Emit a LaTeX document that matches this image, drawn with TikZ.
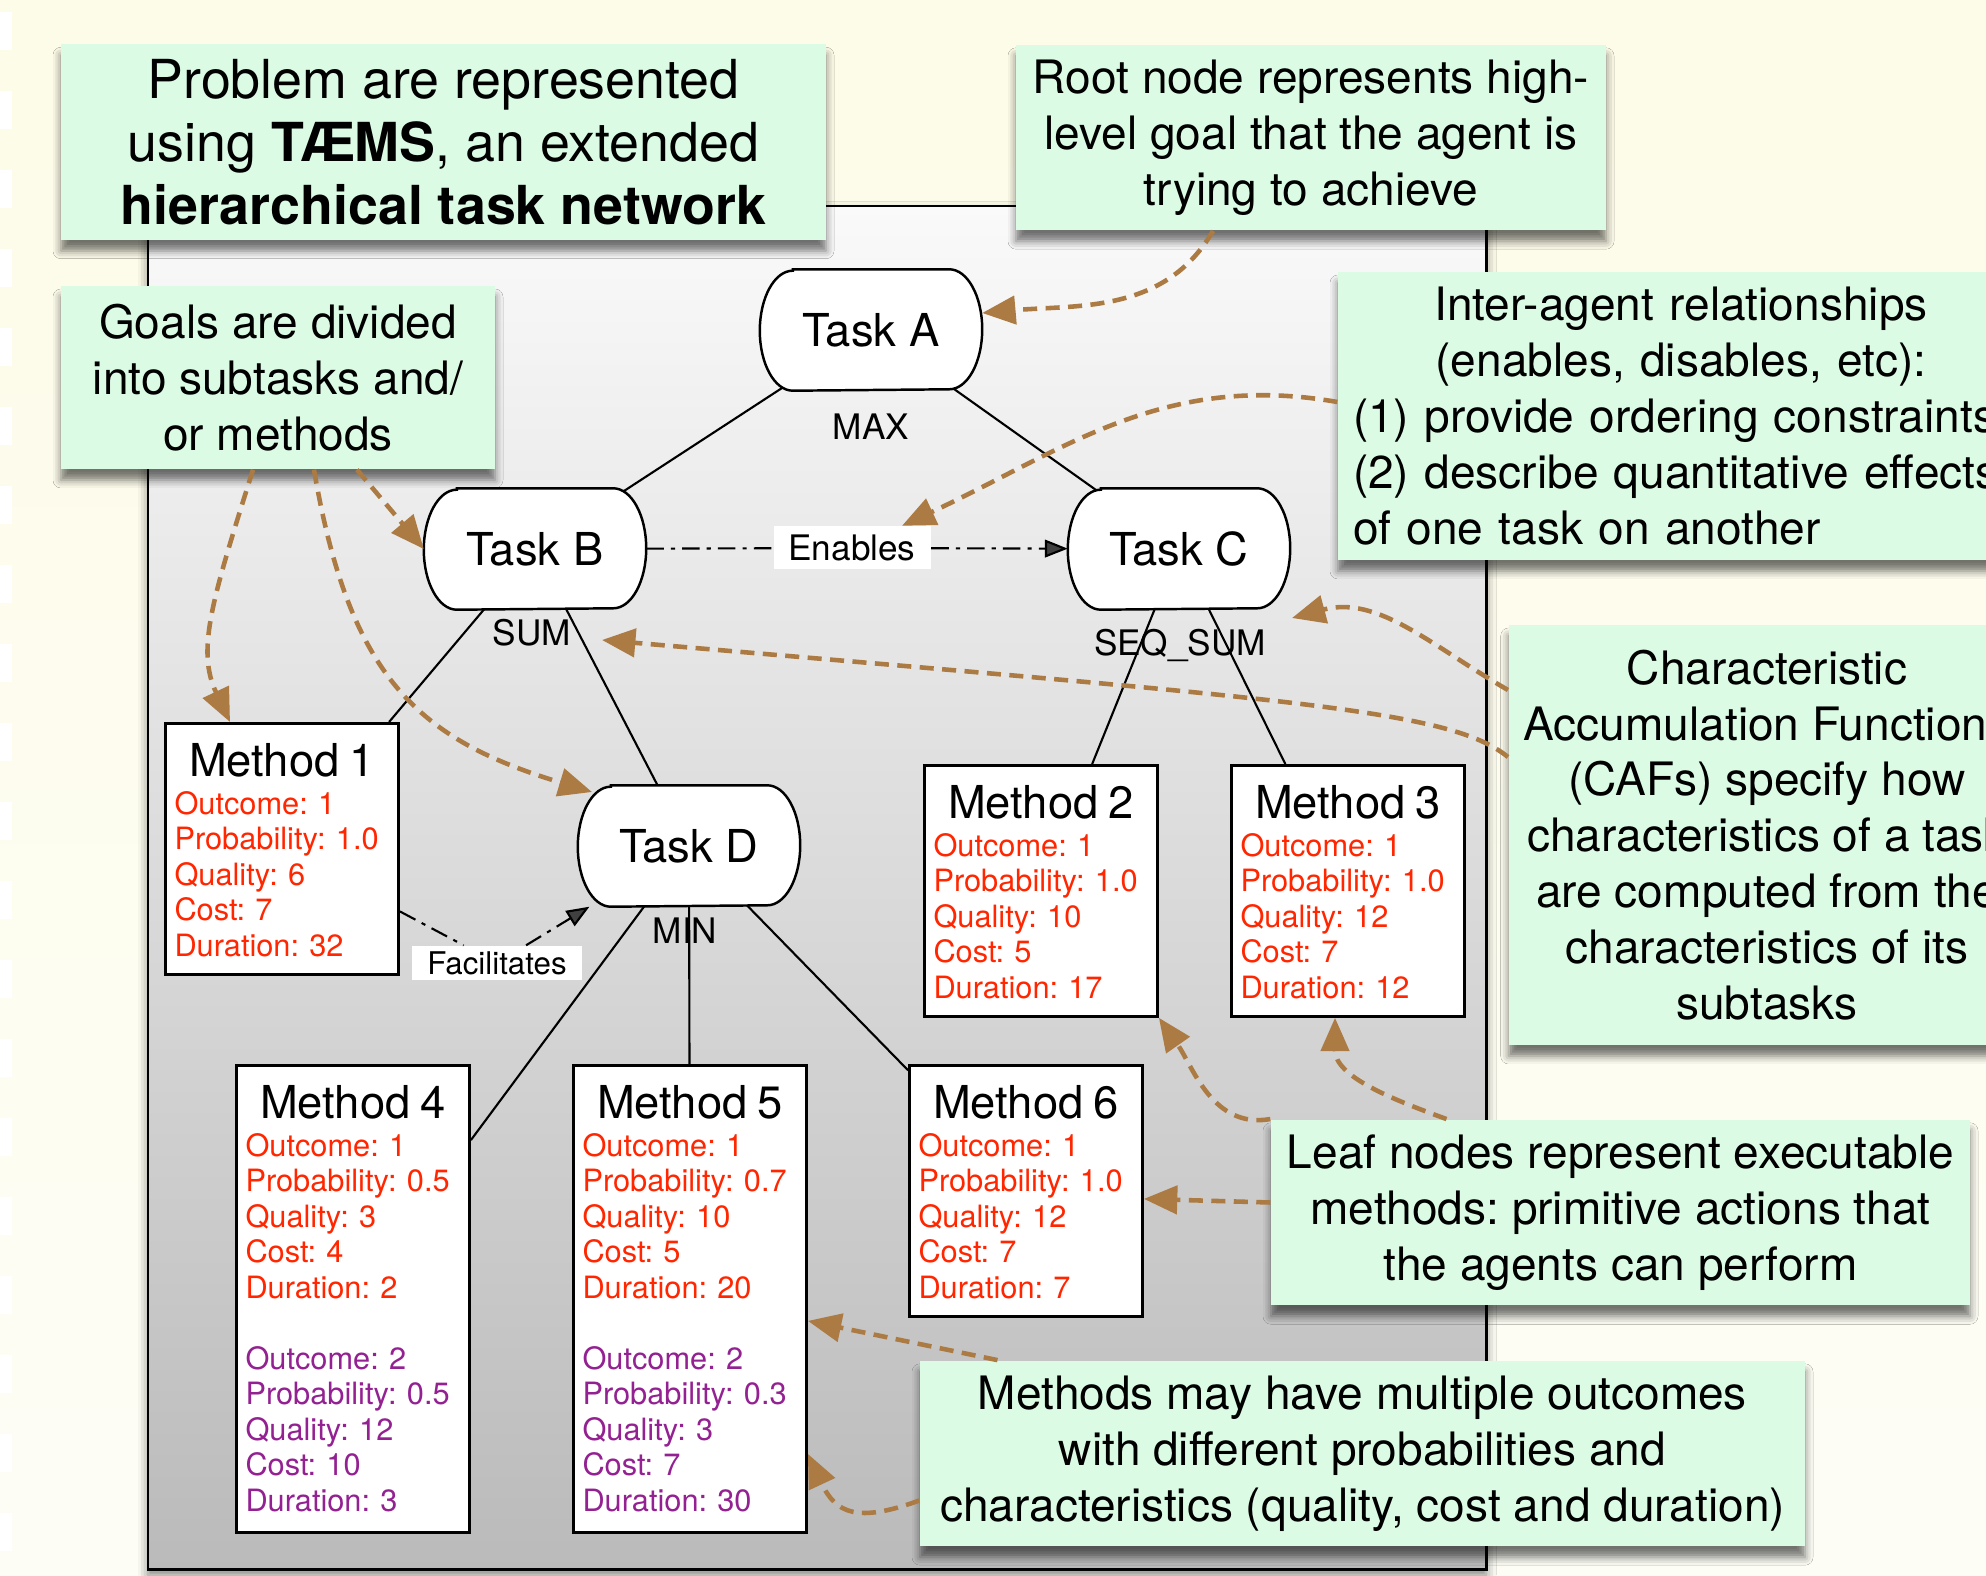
\documentclass[tikz,border=0pt]{standalone}
\usepackage{fontspec}
\setmainfont{TeX Gyre Heros}
\usetikzlibrary{arrows.meta, shadows.blur}
\frenchspacing

\definecolor{cream}{RGB}{253,252,232}
\definecolor{creamlight}{RGB}{253,253,246}
\definecolor{notegreen}{RGB}{219,251,229}
\definecolor{notebrown}{RGB}{172,123,67}
\definecolor{outred}{RGB}{255,38,0}
\definecolor{outpurple}{RGB}{148,33,146}

% method box helpers
\newcommand{\mhead}[1]{{\centering\fontsize{12.9}{15}\selectfont #1\par}\vspace{0.7pt}}
\newcommand{\outcome}[6]{{\raggedright\color{#1}\mbox{Outcome: #2}\\\mbox{Probability: #3}\\
  \mbox{Quality: #4}\\\mbox{Cost: #5}\\\mbox{Duration: #6}\par}}

\tikzset{
  task/.style={rectangle, minimum width=2.21cm, minimum height=1.2cm, inner sep=0pt},
  taskbody/.style={draw, fill=white, line width=0.7pt},
  tasktext/.style={font=\fontsize{12.9}{15}\selectfont},
  method/.style={draw, fill=white, line width=0.8pt, anchor=north,
    text width=2.15cm, inner xsep=0.09cm, inner ysep=0.15cm,
    text height=0.38cm, text depth=#1, font=\fontsize{8.75}{10.1}\selectfont},
  method/.default=1.83cm,
  caf/.style={font=\fontsize{10}{12}\selectfont},
  rellabel/.style={fill=white, inner xsep=0.15cm, inner ysep=0pt, minimum height=0.43cm},
  link/.style={line width=0.6pt},
  relation/.style={line width=0.6pt, dash pattern=on 5pt off 2pt on 1.2pt off 2pt,
    -{Triangle[length=6.5pt, width=5pt]}},
  notebox/.style={fill=notegreen, inner sep=0.15cm,
    blur shadow={shadow xshift=0cm, shadow yshift=-0.11cm, shadow blur radius=0.08cm, shadow opacity=55},
    font=\fontsize{13.1}{15.9}\selectfont},
  note/.style={notebox, align=center},
  notearrow/.style={draw=notebrown, line width=1.3pt, dash pattern=on 4pt off 2.4pt,
    -{Triangle[length=9.5pt, width=8pt]}},
}

\begin{document}
\begin{tikzpicture}
\useasboundingbox (0,0) rectangle (19.86,15.75);
\clip (0,0) rectangle (19.86,15.75);
% page
\shade[top color=cream, bottom color=creamlight] (0,0) rectangle (19.86,15.75);
\draw[white, line width=0.12cm, dash pattern=on 0.38cm off 0.41cm] (0.06,15.63) -- (0.06,0);
% task network panel
\draw[line width=0.85pt, top color=black!2, middle color=black!10, bottom color=black!27,
  blur shadow={shadow xshift=0cm, shadow yshift=-0.06cm, shadow blur radius=0.1cm, shadow opacity=50}]
  (1.48,0.06) rectangle (14.86,13.69);

% task places, the outlines are drawn over the tree below
\node[task] (taskA) at (8.71,12.45) {};
\node[task] (taskB) at (5.35,10.26) {};
\node[task] (taskC) at (11.79,10.26) {};
\node[task] (taskD) at (6.89,7.29) {};

% methods
\node[method] (method1) at (2.82,8.53) {\mhead{Method 1}\outcome{outred}{1}{1.0}{6}{7}{32}};
\node[method] (method2) at (10.41,8.11) {\mhead{Method 2}\outcome{outred}{1}{1.0}{10}{5}{17}};
\node[method] (method3) at (13.48,8.11) {\mhead{Method 3}\outcome{outred}{1}{1.0}{12}{7}{12}};
\node[method=3.99cm] (method4) at (3.53,5.11) {\mhead{Method 4}\outcome{outred}{1}{0.5}{3}{4}{2}%
  \vspace{\baselineskip}\outcome{outpurple}{2}{0.5}{12}{10}{3}};
\node[method=3.99cm] (method5) at (6.90,5.11) {\mhead{Method 5}\outcome{outred}{1}{0.7}{10}{5}{20}%
  \vspace{\baselineskip}\outcome{outpurple}{2}{0.3}{3}{7}{30}};
\node[method] (method6) at (10.26,5.11) {\mhead{Method 6}\outcome{outred}{1}{1.0}{12}{7}{7}};

% tree
\draw[link] (taskA.center) -- (taskB.center);
\draw[link] (taskA.center) -- (taskC.center);
\draw[link] (taskB.center) -- (taskD.center);
\draw[link] (taskB.center) -- (method1);
\draw[link] (taskC.center) -- (method2);
\draw[link] (taskC.center) -- (method3);
\draw[link] (taskD.center) -- (method4);
\draw[link] (taskD.center) -- (method5);
\draw[link] (taskD.center) -- (method6);

% task outlines with their names
\foreach \t/\s in {taskA/A, taskB/B, taskC/C, taskD/D}
  \draw[taskbody] ([xshift=0.33cm]\t.north west) -- ([xshift=-0.33cm]\t.north east)
    arc[start angle=90, end angle=-90, x radius=0.33cm, y radius=0.6cm]
    -- ([xshift=0.33cm]\t.south west)
    arc[start angle=270, end angle=90, x radius=0.33cm, y radius=0.6cm] -- cycle
    (\t.center) node[tasktext] (\t text) {Task \s};

% accumulation functions
\node[caf] (max) at (8.71,11.48) {MAX};
\node[caf] (sum) at (5.32,9.42) {SUM};
\node[caf] (seqsum) at (11.80,9.30) {SEQ\_SUM};
\node[caf] (min) at (6.85,6.44) {MIN};

% relationships
\node[rellabel, font=\fontsize{10}{12}\selectfont] (enables) at (8.52,10.27) {Enables};
\node[rellabel, font=\fontsize{8.9}{10}\selectfont, minimum height=0.34cm] (facil) at (4.97,6.12) {Facilitates};
\draw[relation] (taskB) -- (enables) -- (taskC);
\draw[relation] (method1) -- (facil) -- (taskD);

% notes
\node[note, minimum width=7.65cm, minimum height=1.92cm, font=\fontsize{15.3}{17.9}\selectfont] (problem) at (4.435,14.33)
  {Problem are represented\\using \textbf{TÆMS}, an extended\\\textbf{hierarchical task network}};
\node[note, minimum width=5.90cm, minimum height=1.83cm] (root) at (13.11,14.375)
  {Root node represents high-\\level goal that the agent is\\trying to achieve};
\node[note, minimum width=4.34cm, minimum height=1.83cm] (goals) at (2.78,11.975)
  {Goals are divided\\into subtasks and/\\or methods};
\node[notebox, text width=6.56cm, minimum height=2.88cm] (inter) at (16.81,11.59)
  {{\centering Inter-agent relationships\\(enables, disables, etc):\par}
   \raggedright (1) provide ordering constraints\\(2) describe quantitative effects\\of one task on another\par};
\node[note, minimum width=5.12cm, minimum height=4.2cm] (caf) at (17.67,7.40)
  {Characteristic\\Accumulation Functions\\(CAFs) specify how\\characteristics of a task\\are computed from the\\characteristics of its\\subtasks};
\node[note, minimum width=6.99cm, minimum height=1.81cm] (leaf) at (16.205,3.625)
  {Leaf nodes represent executable\\methods: primitive actions that\\the agents can perform};
\node[note, minimum width=8.85cm, minimum height=1.81cm] (multi) at (13.625,1.215)
  {Methods may have multiple outcomes\\with different probabilities and\\characteristics (quality, cost and duration)};

% note pointers
\draw[notearrow] ([xshift=-0.98cm]root.south) to[out=-120, in=5] ([yshift=0.17cm]taskA.east);
\draw[notearrow] ([xshift=0.79cm]goals.south) -- (taskB.west);
\draw[notearrow] ([xshift=-0.25cm]goals.south) .. controls (2.12,9.75) and (1.96,9.25) .. ([xshift=-0.52cm]method1.north);
\draw[notearrow] ([xshift=0.36cm]goals.south) .. controls (3.50,8.95) and (4.20,8.35) .. ([shift={(-0.97,0.54)}]taskD.center);
\draw[notearrow] ([yshift=0.14cm]inter.west) to[out=170, in=25] ([xshift=0.5cm]enables.north);
\draw[notearrow] ([yshift=1.45cm]caf.west) to[out=150, in=15] ([shift={(1.12,0.27)}]seqsum.center);
\draw[notearrow] ([yshift=0.78cm]caf.west) .. controls (14.50,8.65) and (13.00,8.75) .. ([shift={(0.70,-0.07)}]sum.center);
\draw[notearrow] (leaf.north west) to[out=190, in=-55] (method2.south east);
\draw[notearrow] ([xshift=-1.74cm]leaf.north) to[out=160, in=-90] ([xshift=-0.13cm]method3.south);
\draw[notearrow] ([yshift=0.1cm]leaf.west) -- ([yshift=-0.08cm]method6.east);
\draw[notearrow] ([xshift=-3.65cm]multi.north) -- ([yshift=-0.22cm]method5.east);
\draw[notearrow] ([yshift=-0.47cm]multi.west) to[out=200, in=-65, looseness=1.4] ([yshift=-1.55cm]method5.east);
\end{tikzpicture}
\end{document}
